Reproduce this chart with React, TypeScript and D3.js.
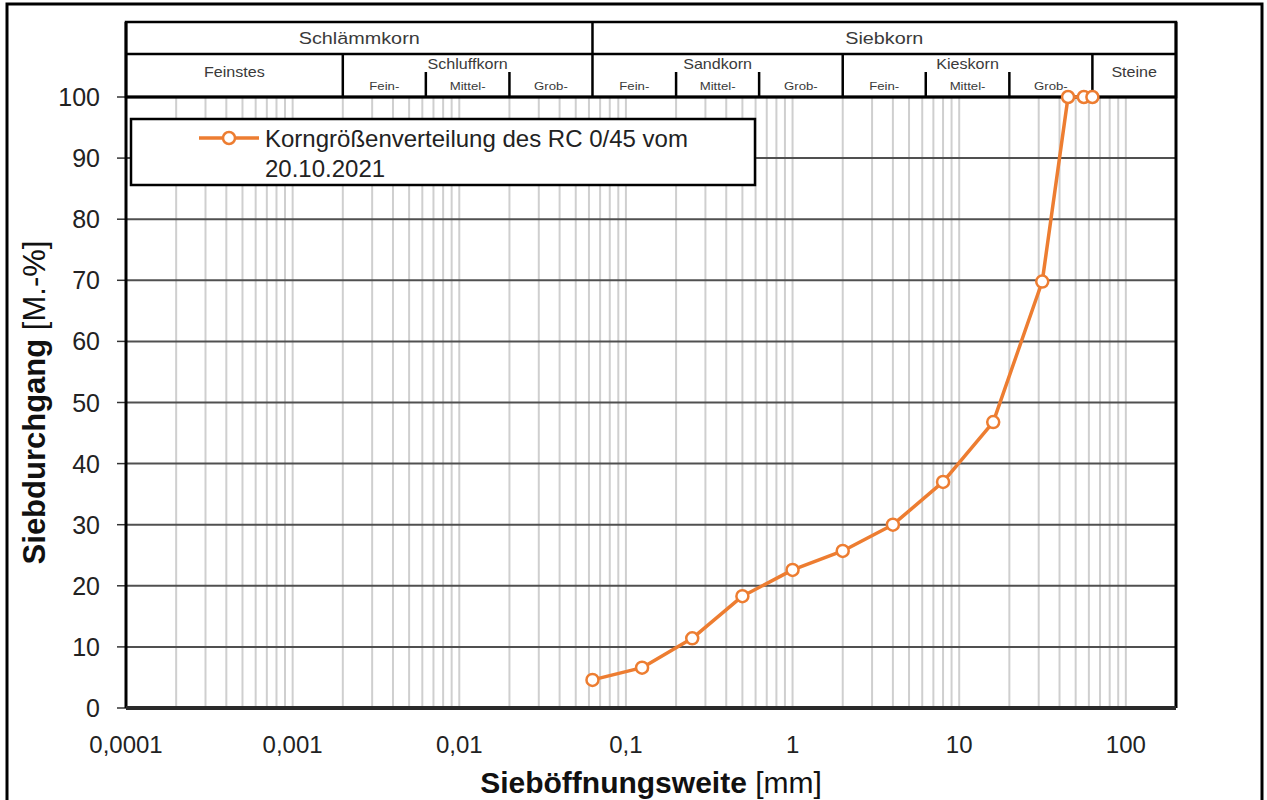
import React, { useEffect, useRef } from 'react';
import * as d3 from 'd3';

// Sieve openings [mm] and passing fraction [M.-%]
const sieveSizes = [0.063, 0.125, 0.25, 0.5, 1, 2, 4, 8, 16, 31.5, 45, 56, 63];
const passing = [4.6, 6.6, 11.4, 18.3, 22.6, 25.7, 30.0, 37.0, 46.8, 69.8, 100, 100, 100];

const seriesLabel = ['Korngrößenverteilung des RC 0/45 vom', '20.10.2021'];

const yTicks = [0, 10, 20, 30, 40, 50, 60, 70, 80, 90, 100];
const xTicks = [0.0001, 0.001, 0.01, 0.1, 1, 10, 100];
const xTickLabels = ['0,0001', '0,001', '0,01', '0,1', '1', '10', '100'];

const X_MIN = 0.0001;
const X_MAX = 200;

// grain size classes, boundaries in mm
const mainClasses = [
  { name: 'Schlämmkorn', from: X_MIN, to: 0.063 },
  { name: 'Siebkorn', from: 0.063, to: X_MAX },
];
const groupClasses = [
  { name: 'Feinstes', from: X_MIN, to: 0.002, split: false },
  { name: 'Schluffkorn', from: 0.002, to: 0.063, split: true },
  { name: 'Sandkorn', from: 0.063, to: 2, split: true },
  { name: 'Kieskorn', from: 2, to: 63, split: true },
  { name: 'Steine', from: 63, to: X_MAX, split: false },
];
const subClasses = [
  { name: 'Fein-', from: 0.002, to: 0.0063 },
  { name: 'Mittel-', from: 0.0063, to: 0.02 },
  { name: 'Grob-', from: 0.02, to: 0.063 },
  { name: 'Fein-', from: 0.063, to: 0.2 },
  { name: 'Mittel-', from: 0.2, to: 0.63 },
  { name: 'Grob-', from: 0.63, to: 2 },
  { name: 'Fein-', from: 2, to: 6.3 },
  { name: 'Mittel-', from: 6.3, to: 20 },
  { name: 'Grob-', from: 20, to: 63 },
];

const ORANGE = '#ED7D31';
const FONT = '"Liberation Sans", Arial, Helvetica, sans-serif';

const App = () => {
  const svgRef = useRef<SVGSVGElement>(null);

  useEffect(() => {
    const W = 1267;
    const H = 800;
    const plot = { left: 126, right: 1176, top: 97, bottom: 708 };
    const head = { top: 22, mid: 54, sub: 72 };

    const svg = d3.select(svgRef.current).attr('width', W).attr('height', H);
    svg.selectAll('*').remove();

    const x = d3.scaleLog().domain([X_MIN, X_MAX]).range([plot.left, plot.right]);
    const y = d3.scaleLinear().domain([0, 100]).range([plot.bottom, plot.top]);

    svg.append('rect').attr('width', W).attr('height', H).attr('fill', '#fff');
    // outer frame
    svg.append('rect')
      .attr('x', 7).attr('y', 4).attr('width', 1255).attr('height', 802)
      .attr('fill', 'none').attr('stroke', '#000').attr('stroke-width', 3);

    // vertical log grid
    const gridX: number[] = [];
    for (let e = -4; e <= 1; e++) {
      for (let m = 1; m <= 9; m++) gridX.push(m * Math.pow(10, e));
    }
    gridX.push(100);
    svg.append('g')
      .selectAll('line')
      .data(gridX.filter((v) => v > X_MIN))
      .enter()
      .append('line')
      .attr('x1', (d) => x(d)).attr('x2', (d) => x(d))
      .attr('y1', plot.top).attr('y2', plot.bottom)
      .attr('stroke', '#cfcfcf').attr('stroke-width', 2);

    // horizontal grid
    svg.append('g')
      .selectAll('line')
      .data(yTicks.filter((v) => v > 0 && v < 100))
      .enter()
      .append('line')
      .attr('x1', plot.left).attr('x2', plot.right)
      .attr('y1', (d) => y(d)).attr('y2', (d) => y(d))
      .attr('stroke', '#505050').attr('stroke-width', 2);

    // y ticks + labels
    const yAxis = svg.append('g');
    yAxis.selectAll('line')
      .data(yTicks)
      .enter()
      .append('line')
      .attr('x1', plot.left - 9).attr('x2', plot.left)
      .attr('y1', (d) => y(d)).attr('y2', (d) => y(d))
      .attr('stroke', '#333').attr('stroke-width', 1.5);
    yAxis.selectAll('text')
      .data(yTicks)
      .enter()
      .append('text')
      .attr('x', 100)
      .attr('y', (d) => y(d))
      .attr('dy', '0.36em')
      .attr('text-anchor', 'end')
      .style('font-family', FONT).style('font-size', '25px').style('fill', '#222')
      .text((d) => d);

    // x labels
    svg.append('g')
      .selectAll('text')
      .data(xTicks)
      .enter()
      .append('text')
      .attr('x', (d) => x(d))
      .attr('y', 753)
      .attr('text-anchor', 'middle')
      .style('font-family', FONT).style('font-size', '24px').style('fill', '#222')
      .text((d, i) => xTickLabels[i]);

    // header table
    const hdr = svg.append('g').attr('stroke', '#000').attr('stroke-width', 2.5);
    hdr.append('rect')
      .attr('x', plot.left).attr('y', head.top)
      .attr('width', plot.right - plot.left).attr('height', plot.top - head.top)
      .attr('fill', '#fff');
    hdr.append('line')
      .attr('x1', plot.left).attr('x2', plot.right)
      .attr('y1', head.mid).attr('y2', head.mid);
    hdr.selectAll('line.main')
      .data(mainClasses.slice(1))
      .enter()
      .append('line')
      .attr('x1', (d) => x(d.from)).attr('x2', (d) => x(d.from))
      .attr('y1', head.top).attr('y2', head.mid);
    hdr.selectAll('line.group')
      .data(groupClasses.slice(1))
      .enter()
      .append('line')
      .attr('x1', (d) => x(d.from)).attr('x2', (d) => x(d.from))
      .attr('y1', head.mid).attr('y2', plot.top);
    hdr.selectAll('line.sub')
      .data(subClasses.filter((d) => !groupClasses.some((g) => g.from === d.from)))
      .enter()
      .append('line')
      .attr('x1', (d) => x(d.from)).attr('x2', (d) => x(d.from))
      .attr('y1', head.sub).attr('y2', plot.top);

    const mid = (d: { from: number; to: number }) => (x(d.from) + x(d.to)) / 2;
    const label = (
      data: any[],
      yPos: (d: any) => number,
      size: number,
      sx: number,
    ) =>
      svg.append('g')
        .selectAll('text')
        .data(data)
        .enter()
        .append('text')
        .attr('transform', (d) => `translate(${mid(d)},${yPos(d)}) scale(${sx},1)`)
        .attr('text-anchor', 'middle')
        .style('font-family', FONT).style('font-size', `${size}px`).style('fill', '#3a3a3a')
        .text((d) => d.name);

    label(mainClasses, () => 44, 16.5, 1.2);
    label(groupClasses, (d) => (d.split ? 69 : 77), 14, 1.15);
    label(subClasses, () => 90, 11, 1.2);

    // plot frame
    const frame = svg.append('g').attr('stroke', '#000');
    frame.append('line')
      .attr('x1', plot.left).attr('x2', plot.right)
      .attr('y1', plot.top).attr('y2', plot.top).attr('stroke-width', 3);
    frame.append('line')
      .attr('x1', plot.left).attr('x2', plot.left)
      .attr('y1', head.top).attr('y2', plot.bottom).attr('stroke-width', 3);
    frame.append('line')
      .attr('x1', plot.right).attr('x2', plot.right)
      .attr('y1', head.top).attr('y2', plot.bottom).attr('stroke-width', 3);
    frame.append('line')
      .attr('x1', plot.left).attr('x2', plot.right)
      .attr('y1', plot.bottom).attr('y2', plot.bottom)
      .attr('stroke', '#2a2a2a').attr('stroke-width', 4);

    // series
    const points = sieveSizes.map((s, i) => ({ s, p: passing[i] }));
    const line = d3.line<{ s: number; p: number }>().x((d) => x(d.s)).y((d) => y(d.p));
    svg.append('path')
      .datum(points)
      .attr('d', line)
      .attr('fill', 'none')
      .attr('stroke', ORANGE)
      .attr('stroke-width', 3.5)
      .attr('stroke-linejoin', 'round');
    svg.append('g')
      .selectAll('circle')
      .data(points)
      .enter()
      .append('circle')
      .attr('cx', (d) => x(d.s))
      .attr('cy', (d) => y(d.p))
      .attr('r', 6)
      .attr('fill', '#fff')
      .attr('stroke', ORANGE)
      .attr('stroke-width', 2.5);

    // legend
    const lg = svg.append('g');
    lg.append('rect')
      .attr('x', 131).attr('y', 119).attr('width', 624).attr('height', 66)
      .attr('fill', '#fff').attr('stroke', '#000').attr('stroke-width', 2.5);
    lg.append('line')
      .attr('x1', 199).attr('x2', 259).attr('y1', 138).attr('y2', 138)
      .attr('stroke', ORANGE).attr('stroke-width', 3.5);
    lg.append('circle')
      .attr('cx', 229).attr('cy', 138).attr('r', 6)
      .attr('fill', '#fff').attr('stroke', ORANGE).attr('stroke-width', 2.5);
    lg.selectAll('text')
      .data(seriesLabel)
      .enter()
      .append('text')
      .attr('x', 265)
      .attr('y', (d, i) => 147 + i * 30)
      .style('font-family', FONT).style('font-size', '24px').style('fill', '#222')
      .text((d) => d);

    // axis titles
    const xt = svg.append('text')
      .attr('x', (plot.left + plot.right) / 2)
      .attr('y', 793)
      .attr('text-anchor', 'middle')
      .style('font-family', FONT).style('font-size', '30px').style('fill', '#111');
    xt.append('tspan').style('font-weight', 'bold').text('Sieböffnungsweite');
    xt.append('tspan').text(' [mm]');

    const yt = svg.append('text')
      .attr('transform', `translate(45,${(plot.top + plot.bottom) / 2}) rotate(-90)`)
      .attr('text-anchor', 'middle')
      .style('font-family', FONT).style('font-size', '31px').style('fill', '#111');
    yt.append('tspan').style('font-weight', 'bold').text('Siebdurchgang');
    yt.append('tspan').text('  [M.-%]');
  }, []);

  return <svg ref={svgRef} style={{ position: 'absolute', left: 0, top: 0 }} />;
};

export default App;
